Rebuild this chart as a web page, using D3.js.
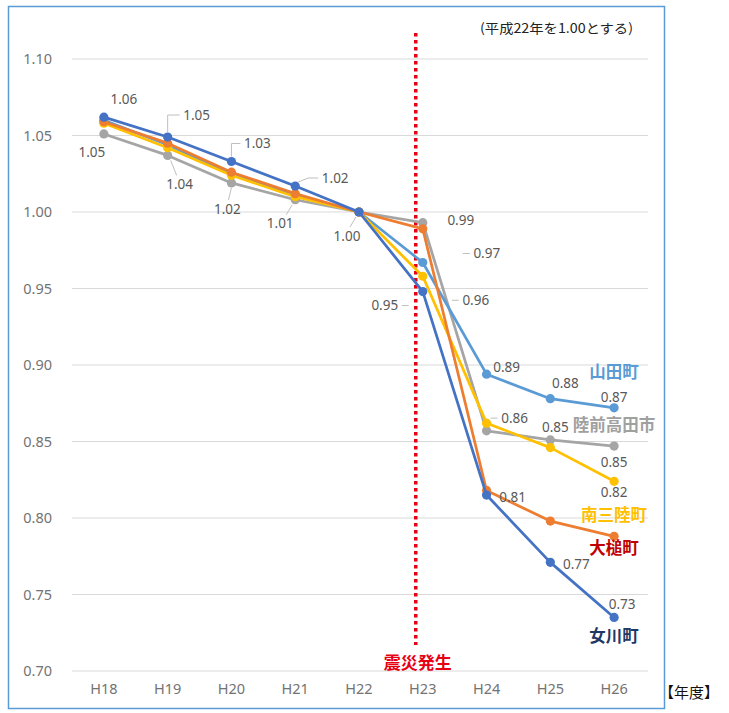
<!DOCTYPE html>
<html><head><meta charset="utf-8">
<script src="https://cdn.jsdelivr.net/npm/d3@7"></script>
<style>
html,body{margin:0;padding:0;background:#fff;}
svg{display:block;}
</style></head>
<body>
<svg id="chart" width="729" height="713"></svg>
<script>
const categories = ["H18","H19","H20","H21","H22","H23","H24","H25","H26"];
const yTicks = [0.70,0.75,0.80,0.85,0.90,0.95,1.00,1.05,1.10];
const seriesNames = ["陸前高田市","山田町","南三陸町","大槌町","女川町"];
const rikuzentakata = [1.051,1.037,1.019,1.008,1.000,0.993,0.857,0.851,0.847];
const yamada        = [1.060,1.044,1.025,1.011,1.000,0.967,0.894,0.878,0.872];
const minamisanriku = [1.058,1.042,1.024,1.010,1.000,0.958,0.862,0.846,0.824];
const otsuchi       = [1.059,1.045,1.026,1.012,1.000,0.989,0.818,0.798,0.788];
const onagawa       = [1.062,1.049,1.033,1.017,1.000,0.948,0.815,0.771,0.735];
const noteText = "(平成22年を1.00とする)";
const unitText = "【年度】";
const eventText = "震災発生";
const eventCategory = "H23";

const seriesValues = [rikuzentakata, yamada, minamisanriku, otsuchi, onagawa];
const lineColors = ["#a5a5a5","#5b9bd5","#ffc000","#ed7d31","#4472c4"];
const nameColors = ["#a0a0a0","#5b9bd5","#ffc000","#c00000","#1f3864"];
const nameOffsets = [-21,-36,34,12,19];

// data labels: [seriesIndex, categoryIndex, dx, dy, leaderType]
const dataLabels = [
  [4,0,20,-18,""],[4,1,29,-22,"v"],[4,2,26,-18,"v"],[4,3,40,-8,"d"],
  [0,0,-12,18,""],[0,1,12,29,"s"],[0,2,-4,26,"s"],[0,3,-15,24,"s"],
  [0,4,-12,24,"s"],[0,5,38,-2,""],[1,5,64,-9,"h"],[2,5,53,24,"h"],
  [4,5,-38,14,"h"],[1,6,20,-7,""],[1,7,15,-15,""],[1,8,0,-11,""],
  [2,6,28,-5,"h"],[0,7,5,-13,""],[0,8,0,16,""],[2,8,0,11,""],
  [4,6,26,2,""],[4,7,26,2,""],[4,8,8,-13,""]
];

const svg = d3.select("#chart");
svg.append("rect").attr("x",8.5).attr("y",6.5).attr("width",656).attr("height",702)
  .attr("fill","#fff").attr("stroke","#5b9bd5").attr("stroke-width",1.5);

const x = d3.scaleBand().domain(categories).range([72,646]);
const xc = c => x(c) + x.bandwidth()/2;
const y = d3.scaleLinear().domain([0.70,1.10]).range([671,59]);

// gridlines
svg.append("g").selectAll("line").data(yTicks).join("line")
  .attr("x1",72).attr("x2",648).attr("y1",d=>y(d)).attr("y2",d=>y(d))
  .attr("stroke","#d9d9d9").attr("stroke-width",1);

// y axis labels
const yAxis = d3.axisLeft(y).tickValues(yTicks).tickFormat(d3.format(".2f")).tickSize(0).tickPadding(0);
const ya = svg.append("g").attr("transform","translate(52,0)").call(yAxis);
ya.select(".domain").remove();
ya.selectAll("text").attr("font-family","Noto Sans, sans-serif").attr("font-size",14.5).attr("fill","#737373");

// x axis labels
const xAxis = d3.axisBottom(x).tickSize(0).tickPadding(0);
const xa = svg.append("g").attr("transform","translate(0,684)").call(xAxis);
xa.select(".domain").remove();
xa.selectAll("text").attr("font-family","Noto Sans, sans-serif").attr("font-size",14.5).attr("fill","#737373");

// event dotted line
const evX = xc(eventCategory) - x.step()*0.11;
svg.append("line").attr("x1",evX).attr("x2",evX).attr("y1",y(1.117)).attr("y2",y(0.717))
  .attr("stroke","#e60012").attr("stroke-width",3.5).attr("stroke-dasharray","3.5,3.5");
svg.append("text").attr("x",evX+2).attr("y",669).attr("text-anchor","middle")
  .attr("font-family","Noto Sans CJK JP, sans-serif").attr("font-weight","bold")
  .attr("font-size",17).attr("fill","#e60012").text(eventText);

// lines and markers
const line = d3.line().x((d,i)=>xc(categories[i])).y(d=>y(d));
seriesValues.forEach((vals,si)=>{
  svg.append("path").datum(vals).attr("d",line).attr("fill","none")
    .attr("stroke",lineColors[si]).attr("stroke-width",2.75).attr("stroke-linejoin","round");
  svg.append("g").selectAll("circle").data(vals).join("circle")
    .attr("cx",(d,i)=>xc(categories[i])).attr("cy",d=>y(d)).attr("r",4.6)
    .attr("fill",lineColors[si]);
});

// data labels
const lg = svg.append("g");
dataLabels.forEach(([si,ci,dx,dy,leader])=>{
  const v = seriesValues[si][ci];
  const px = xc(categories[ci]), py = y(v);
  const tx = px+dx, ty = py+dy;
  let pts = null;
  if(leader==="v") pts = [[px,py-5],[px,ty],[tx-17,ty]];
  else if(leader==="d") pts = [[px+3,py-4],[px+13,ty],[tx-17,ty]];
  else if(leader==="h") pts = dx>=0 ? [[tx-24,ty],[tx-17,ty]] : [[tx+17,ty],[tx+24,ty]];
  else if(leader==="s") pts = [[px+(dx>0?3:(dx<-6?-3:0)),py+5],[px+(dx>0?9:(dx<-6?-9:-3)),ty-9]];
  if(pts) lg.append("polyline").attr("points",pts.map(p=>p.join(",")).join(" "))
      .attr("fill","none").attr("stroke","#bfbfbf").attr("stroke-width",1);
  lg.append("text").attr("x",tx).attr("y",ty).attr("dy","0.35em").attr("text-anchor","middle")
    .attr("font-family","Noto Sans, sans-serif").attr("font-size",13.5).attr("fill","#595959")
    .text(d3.format(".2f")(v));
});

// series name labels
seriesNames.forEach((n,si)=>{
  const vals = seriesValues[si];
  const last = categories.length-1;
  svg.append("text").attr("x",xc(categories[last])).attr("y",y(vals[last])+nameOffsets[si])
    .attr("dy","0.35em").attr("text-anchor","middle")
    .attr("font-family","Noto Sans CJK JP, sans-serif").attr("font-weight","bold")
    .attr("font-size",16.5).attr("fill",nameColors[si]).text(n);
});

// note and unit
svg.append("text").attr("x",633).attr("y",33).attr("text-anchor","end")
  .attr("font-family","Noto Sans CJK JP, sans-serif").attr("font-size",13)
  .attr("textLength",153).attr("lengthAdjust","spacingAndGlyphs")
  .attr("fill","#222").text(noteText);
svg.append("text").attr("x",659).attr("y",698)
  .attr("font-family","Noto Sans CJK JP, sans-serif").attr("font-size",15)
  .attr("fill","#111").text(unitText);
</script>
</body></html>
